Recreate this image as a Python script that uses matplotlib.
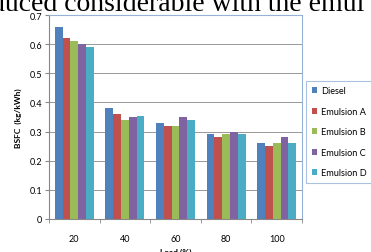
import numpy as np
import matplotlib
matplotlib.use("Agg")
import matplotlib.pyplot as plt
from matplotlib.ticker import FixedLocator

loads = ["20", "40", "60", "80", "100"]
fuels = ["Diesel", "Emulsion A", "Emulsion B", "Emulsion C", "Emulsion D"]
diesel = [0.66, 0.38, 0.33, 0.29, 0.26]
emul_a = [0.62, 0.36, 0.32, 0.28, 0.25]
emul_b = [0.61, 0.34, 0.32, 0.29, 0.26]
emul_c = [0.60, 0.35, 0.35, 0.30, 0.28]
emul_d = [0.59, 0.355, 0.34, 0.29, 0.26]
series = [diesel, emul_a, emul_b, emul_c, emul_d]
colors = ["#4F81BD", "#C0504D", "#9BBB59", "#8064A2", "#4BACC6"]

plt.rcParams['font.family'] = ['Lato', 'DejaVu Sans']

W, H = 371, 253
fig = plt.figure(figsize=(W / 100, H / 100), dpi=100)

# bout de texte du document source, coupé en haut
fig.text(-9 / W, 1 - 11 / H, "duced considerable with the emul",
         family=['Liberation Serif'], fontsize=20, va='baseline', ha='left')

ax = fig.add_axes([49 / W, (H - 220) / H, (302 - 49) / W, (220 - 16) / H])

x = np.arange(len(loads))
bw = 0.77 / len(series)
for k, (vals, col, name) in enumerate(zip(series, colors, fuels)):
    ax.bar(x + (k - 2) * bw, vals, bw, color=col, label=name, zorder=3)

ax.set_xlim(-0.5, 4.5)
ax.set_ylim(0, 0.7)
ax.set_yticks(np.arange(0, 0.71, 0.1))
ax.set_yticklabels(["0", "0.1", "0.2", "0.3", "0.4", "0.5", "0.6", "0.7"])
ax.set_xticks(x)
ax.set_xticklabels(loads)
ax.xaxis.set_minor_locator(FixedLocator(np.arange(-0.5, 5, 1)))
ax.tick_params(axis='x', which='major', length=0, labelsize=6.5, pad=11)
ax.tick_params(axis='x', which='minor', length=3, color='#888888')
ax.tick_params(axis='y', length=3, color='#888888', labelsize=6.5, pad=2)
ax.grid(axis='y', color='#888888', linewidth=0.6, zorder=0)

for s in ['left', 'bottom']:
    ax.spines[s].set_color('#888888')
for s in ['top', 'right']:
    ax.spines[s].set_color('#95B3D7')

ax.set_ylabel("BSFC  (kg/kWh)", fontsize=6, fontweight='bold', labelpad=5)
ax.set_xlabel("Load (%)", fontsize=6, fontweight='bold', labelpad=3)

leg = fig.legend(loc='upper left', bbox_to_anchor=(306 / W, 1 - 82 / H, 80 / W, 0),
                 mode='expand', fontsize=6.6, frameon=True, fancybox=False,
                 handlelength=0.6, handleheight=0.6, handletextpad=0.4,
                 labelspacing=1.25, borderpad=0.6, borderaxespad=0)
leg.get_frame().set_edgecolor('#95B3D7')
leg.get_frame().set_linewidth(0.8)

fig.savefig("out.png", dpi=100)
